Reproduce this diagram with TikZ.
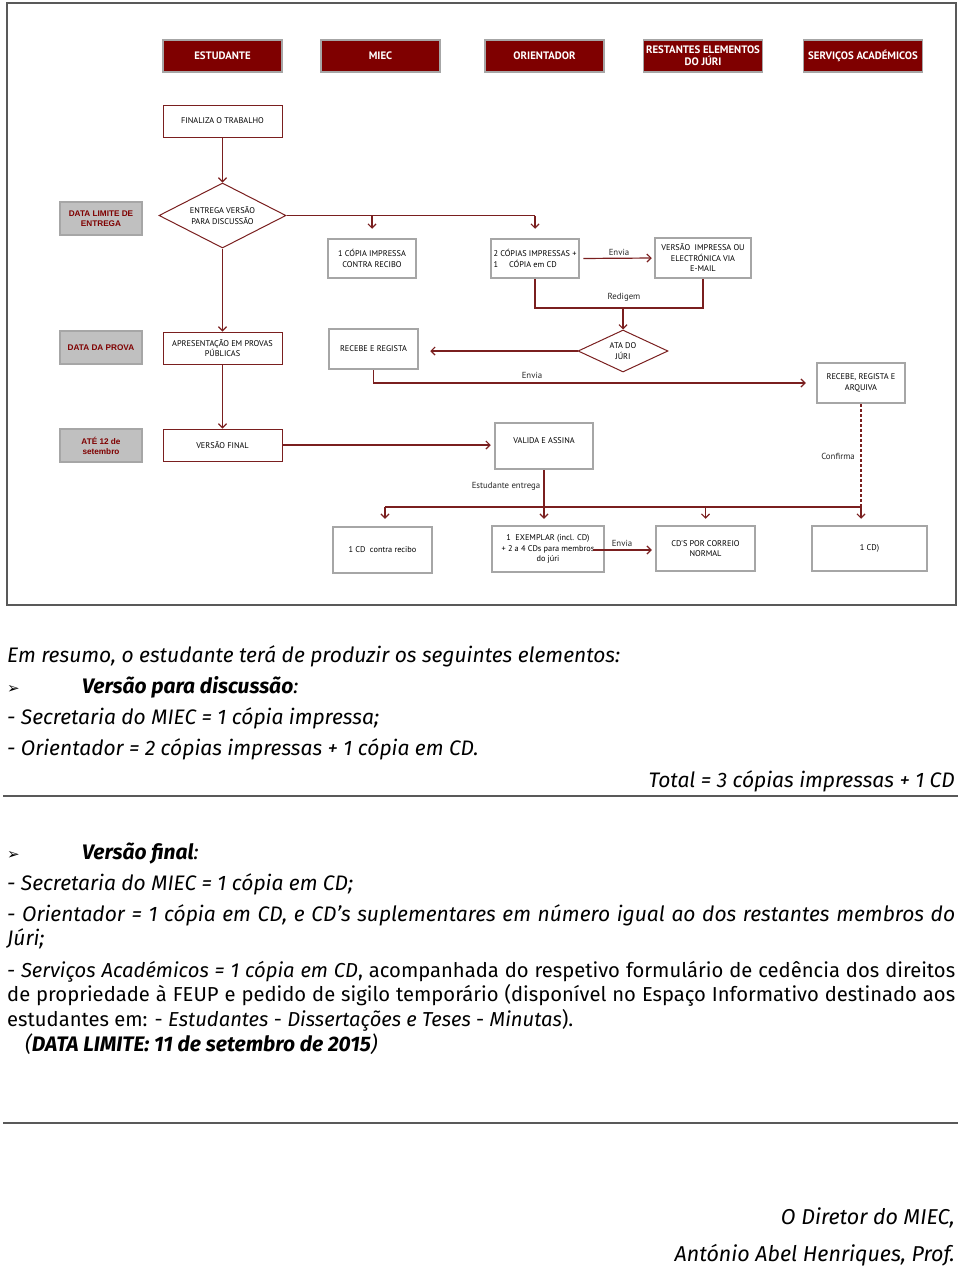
\documentclass[tikz,border=0pt]{standalone}
\usepackage{fontspec}
\setmainfont{Fira Sans}
\newfontfamily\boxf{PT Sans}
\newfontfamily\arialf{Liberation Sans}
\newfontfamily\dejavu{DejaVu Sans}
\usetikzlibrary{shapes.geometric,arrows.meta}
\definecolor{dred}{HTML}{7F0000}
\definecolor{lred}{HTML}{7A1F1F}
\definecolor{bgray}{HTML}{A6A6A6}
\definecolor{fgray}{HTML}{C0C0C0}
\definecolor{ggray}{HTML}{595959}
\begin{document}
\begin{tikzpicture}[x=1pt,y=-1pt,
  hdr/.style={draw=bgray, line width=1.5pt, fill=dred, text=white, font=\boxf\bfseries\fontsize{10.8}{12}\selectfont, minimum width=119pt, minimum height=32pt, inner sep=0pt, align=center},
  redbox/.style={draw=lred, line width=1pt, fill=white, font=\boxf\fontsize{8.3}{10.5}\selectfont, minimum width=119pt, minimum height=32pt, inner sep=0pt, align=center},
  graybox/.style={draw=bgray, line width=2.5pt, fill=white, font=\boxf\fontsize{8.3}{10.5}\selectfont, inner sep=0pt, align=center},
  datebox/.style={draw=bgray, line width=1.5pt, fill=fgray, text=dred, font=\arialf\bfseries\fontsize{8.2}{10}\selectfont, minimum width=82pt, minimum height=33pt, inner sep=0pt, align=center},
  dia/.style={diamond, aspect=2, draw=lred, line width=1pt, fill=white, font=\boxf\fontsize{8.3}{10.5}\selectfont, inner sep=0pt, align=center},
  con/.style={draw=lred, line width=1.2pt},
  arr/.style={con, -{Straight Barb[length=4pt,width=8pt]}},
  lbl/.style={font=\boxf\fontsize{8.8}{10}\selectfont, text=black!85, inner sep=0pt},
  body/.style={font=\fontsize{21}{24}\selectfont\itshape, inner sep=0pt, anchor=base west},
  bodys/.style={body, font=\fontsize{20.2}{24}\selectfont\itshape},
  bodyr/.style={body, anchor=base east},
  sig/.style={font=\fontsize{21.5}{24}\selectfont\itshape, inner sep=0pt, anchor=base east},
  bul/.style={font=\dejavu\fontsize{15}{15}\selectfont, anchor=base west, inner sep=0pt},
  rulel/.style={draw=ggray, line width=1.5pt}
]
\useasboundingbox (0,0) rectangle (960,1269);
\draw[ggray, line width=2pt] (7,3) rectangle (956,605);

% headers
\node[hdr] (hEst) at (222.5,56) {ESTUDANTE};
\node[hdr] (hMiec) at (380.5,56) {MIEC};
\node[hdr] (hOri) at (544.5,56) {ORIENTADOR};
\node[hdr] (hRest) at (703,56) {RESTANTES ELEMENTOS\\DO JÚRI};
\node[hdr] (hServ) at (863,56) {SERVIÇOS ACADÉMICOS};

% flow nodes
\node[redbox] (fin) at (222.5,121) {FINALIZA O TRABALHO};
\node[dia, minimum width=127pt, minimum height=65pt] (d1) at (222.5,215.5) {ENTREGA VERSÃO\\PARA DISCUSSÃO};
\node[datebox] (lim1) at (101,218.5) {DATA LIMITE DE\\ENTREGA};
\node[graybox, minimum width=88pt, minimum height=39pt] (c1) at (372,258.5) {1 CÓPIA IMPRESSA\\CONTRA RECIBO};
\node[graybox, minimum width=88pt, minimum height=39pt, align=left] (c2) at (535,258.5) {2 CÓPIAS IMPRESSAS +\\1\hspace{11pt}CÓPIA em CD};
\node[graybox, minimum width=96pt, minimum height=40pt] (vers) at (703,258) {VERSÃO\ \ IMPRESSA OU\\ELECTRÓNICA VIA\\E-MAIL};
\node[dia, minimum width=90pt, minimum height=42pt] (ata) at (623,351) {ATA DO\\JÚRI};
\node[graybox, minimum width=89pt, minimum height=40pt] (rr) at (373.5,349) {RECEBE E REGISTA};
\node[graybox, minimum width=88pt, minimum height=40pt] (rra) at (861,383) {RECEBE, REGISTA E\\ARQUIVA};
\node[datebox] (lim2) at (101,347.5) {DATA DA PROVA};
\node[redbox] (apr) at (222.5,348) {APRESENTAÇÃO EM PROVAS\\PÚBLICAS};
\node[datebox] (lim3) at (101,445.5) {ATÉ 12 de\\setembro};
\node[redbox] (vf) at (222.5,445) {VERSÃO FINAL};
\node[graybox, minimum width=98pt, minimum height=46pt] (val) at (544,446) {VALIDA E ASSINA\\\mbox{}};
\node[graybox, minimum width=99pt, minimum height=46pt] (cd1) at (382.5,550) {1 CD\ \ contra recibo};
\node[graybox, minimum width=112pt, minimum height=46pt] (ex) at (548,549) {1\ \ EXEMPLAR (incl. CD)\\+ 2 a 4 CDs para membros\\do júri};
\node[graybox, minimum width=99pt, minimum height=45pt] (corr) at (705.5,548.5) {CD'S POR CORREIO\\NORMAL};
\node[graybox, minimum width=115pt, minimum height=45pt] (cdS) at (869.5,548.5) {1 CD)};

% connectors
\draw[arr] (fin.south) -- (d1.north);
\draw[con] (d1.east) -- (d1.east -| c2.north);
\draw[arr, shorten >=9pt] (d1.east -| c2.north) -- (c2.north);
\draw[arr, shorten >=9pt] (d1.east -| c1.north) -- (c1.north);
\draw[arr, shorten <=3pt, shorten >=2pt] (c2.east) -- (vers.west);
\node[lbl] (lEnv1) at (619,252) {Envia};
\coordinate (rg) at (623,308);
\draw[con] (c2.south) |- (rg) -| (vers.south);
\node[lbl] (lRed) at (624,297) {Redigem};
\draw[arr] (rg) -- (ata.north);
\draw[arr, shorten >=11pt] (ata.west) -- (rr.east |- ata.west);
\draw[arr, shorten >=10pt] (rr.south) |- (rra.west);
\node[lbl] (lEnv2) at (532,375) {Envia};
\draw[arr] (d1.south) -- (apr.north);
\draw[arr] (apr.south) -- (vf.north);
\draw[arr, shorten >=3pt] (vf.east) -- (val.west |- vf.east);
\coordinate (bL) at (385,507);
\coordinate (bR) at (861,507);
\draw[con] (bL) -- (bR);
\draw[arr, shorten >=7pt] (bL) -- (bL |- cd1.north);
\draw[arr, shorten >=6pt] (val.south) -- (val.south |- ex.north);
\draw[arr, shorten >=6pt] (corr.north |- bL) -- (corr.north);
\draw[arr, shorten >=6pt] (bR) -- (bR |- cdS.north);
\draw[con, dash pattern=on 3pt off 2pt] (rra.south) -- (bR);
\node[lbl] (lConf) at (838,456) {Confirma};
\node[lbl] (lEst) at (506,486) {Estudante entrega};
\coordinate (exs) at (593,550);
\draw[arr, shorten >=3pt] (exs) -- (exs -| corr.west);
\node[lbl] (lEnv3) at (622,543) {Envia};

% lower text
\node[body] (t1) at (7,662) {Em resumo, o estudante terá de produzir os seguintes elementos:};
\node[bul] (b1) at (7,693) {➢};
\node[body] (t2) at (82,693) {\bfseries Versão para discussão\mdseries:};
\node[body] (t3) at (7,724) {- Secretaria do MIEC = 1 cópia impressa;};
\node[body] (t4) at (7,755) {- Orientador = 2 cópias impressas + 1 cópia em CD.};
\node[bodyr] (t5) at (955,787) {Total = 3 cópias impressas + 1 CD};
\draw[rulel] (3,796) -- (958,796);
\node[bul] (b2) at (7,859) {➢};
\node[body] (t6) at (82,859) {\bfseries Versão final\mdseries:};
\node[body] (t7) at (7,890) {- Secretaria do MIEC = 1 cópia em CD;};
\node[body] (t8) at (7,921) {\makebox[948pt][s]{- Orientador = 1 cópia em CD, e CD’s suplementares em número igual ao dos restantes membros do}};
\node[body] (t9) at (7,945) {Júri;};
\node[bodys] (t10) at (7,977) {\makebox[948pt][s]{- Serviços Académicos = 1 cópia em CD{\upshape, acompanhada do respetivo formulário de cedência dos direitos}}};
\node[bodys] (t11) at (7,1001) {\upshape\makebox[948pt][s]{de propriedade à FEUP e pedido de sigilo temporário (disponível no Espaço Informativo destinado aos}};
\node[bodys] (t12) at (7,1026) {\upshape estudantes em: - \textit{Estudantes} - \textit{Dissertações e Teses} - \textit{Minutas}).};
\node[body] (t13) at (25,1051) {(\textbf{DATA LIMITE: 11 de setembro de 2015})};
\draw[rulel] (3,1123) -- (958,1123);
\node[sig] (t14) at (955,1224) {O Diretor do MIEC,};
\node[sig] (t15) at (955,1261) {António Abel Henriques, Prof.};
\end{tikzpicture}
\end{document}
